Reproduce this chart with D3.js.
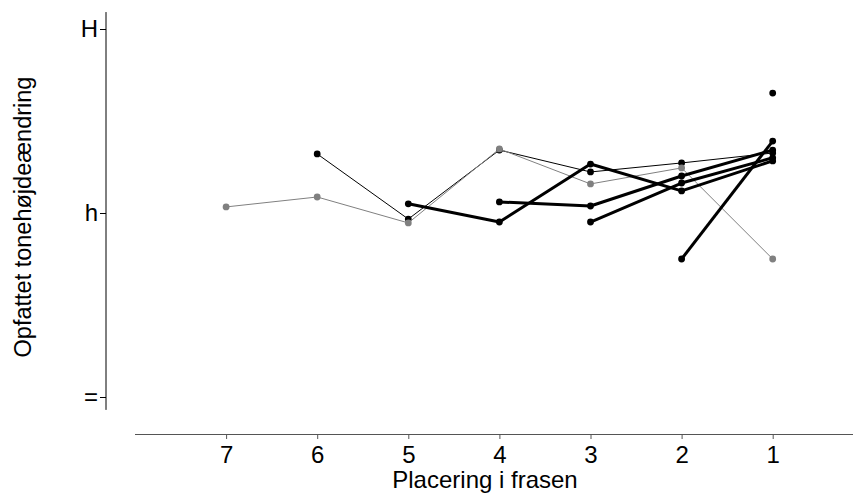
<!DOCTYPE html>
<html>
<head>
<meta charset="utf-8">
<script src="https://cdn.jsdelivr.net/npm/d3@7"></script>
<style>
  html, body { margin: 0; padding: 0; background: #fff; }
  svg { display: block; font-family: "Liberation Sans", Arial, sans-serif; }
</style>
</head>
<body>
<svg id="chart" width="853" height="494"></svg>
<script>
// Positions in the phrase (counted from the end), shown right to left
const positions = [7, 6, 5, 4, 3, 2, 1];
// Perceived pitch change levels: 0 = "=", 1 = "h", 2 = "H"
const yTickValues = [0, 1, 2];
const yTickLabels = ["=", "h", "H"];

// Each series: [position, perceived change]
const seriesGray    = [[7, 1.033], [6, 1.087], [5, 0.946], [4, 1.348], [3, 1.158], [2, 1.245], [1, 0.75]];
const seriesThin    = [[6, 1.321], [5, 0.967], [4, 1.342], [3, 1.223], [2, 1.272], [1, 1.326]];
const seriesThickA  = [[5, 1.05], [4, 0.951], [3, 1.266], [2, 1.12], [1, 1.283]];
const seriesThickB  = [[4, 1.06], [3, 1.038], [2, 1.201], [1, 1.342]];
const seriesThickC  = [[3, 0.951], [2, 1.163], [1, 1.30]];
const seriesThickD  = [[2, 0.75], [1, 1.391]];
const seriesSingle  = [[1, 1.652]];

const FONT = "'Liberation Sans', Arial, sans-serif";
const svg = d3.select("#chart");

const x = d3.scaleLinear().domain([8, 0]).range([135, 863.8]);
const y = d3.scaleLinear().domain([0, 2]).range([397, 29]);

// Y axis
const yAxis = svg.append("g")
  .attr("transform", "translate(106,0)")
  .call(d3.axisLeft(y).tickValues(yTickValues).tickFormat((d, i) => yTickLabels[i]).tickSize(6).tickPadding(2));
yAxis.select(".domain").remove();
yAxis.append("line")
  .attr("x1", 0).attr("x2", 0)
  .attr("y1", y(2.092)).attr("y2", y(-0.07))
  .attr("stroke", "#000");
yAxis.selectAll(".tick line").attr("stroke", "#000");
yAxis.selectAll(".tick text")
  .attr("fill", "#000")
  .style("font-size", "24px")
  .style("font-family", FONT);

// X axis
const xAxis = svg.append("g")
  .attr("transform", "translate(0,434)")
  .call(d3.axisBottom(x).tickValues(positions).tickFormat(d3.format("d")).tickSize(5).tickSizeOuter(0).tickPadding(7));
xAxis.select(".domain").attr("stroke", "#555").attr("d", "M135,0.5H853");
xAxis.selectAll(".tick line").attr("stroke", "#555");
xAxis.selectAll(".tick text")
  .attr("fill", "#000")
  .style("font-size", "24px")
  .style("font-family", FONT);

// Axis titles
svg.append("text")
  .attr("x", 485).attr("y", 488)
  .attr("text-anchor", "middle")
  .style("font-size", "24px")
  .style("font-family", FONT)
  .text("Placering i frasen");

svg.append("text")
  .attr("transform", "translate(31,217) rotate(-90)")
  .attr("text-anchor", "middle")
  .style("font-size", "23.5px")
  .style("font-family", FONT)
  .text("Opfattet tonehøjdeændring");

const line = d3.line().x(d => x(d[0])).y(d => y(d[1]));

function drawSeries(data, color, width) {
  const g = svg.append("g");
  g.append("path")
    .datum(data)
    .attr("d", line)
    .attr("fill", "none")
    .attr("stroke", color)
    .attr("stroke-width", width)
    .attr("stroke-linejoin", "round");
  g.selectAll("circle")
    .data(data)
    .join("circle")
    .attr("cx", d => x(d[0]))
    .attr("cy", d => y(d[1]))
    .attr("r", 3.4)
    .attr("fill", color);
}

drawSeries(seriesThin, "#000", 1);
drawSeries(seriesGray, "#808080", 1);
drawSeries(seriesThickA, "#000", 3);
drawSeries(seriesThickB, "#000", 3);
drawSeries(seriesThickC, "#000", 3);
drawSeries(seriesThickD, "#000", 3);
drawSeries(seriesSingle, "#000", 3);
</script>
</body>
</html>
